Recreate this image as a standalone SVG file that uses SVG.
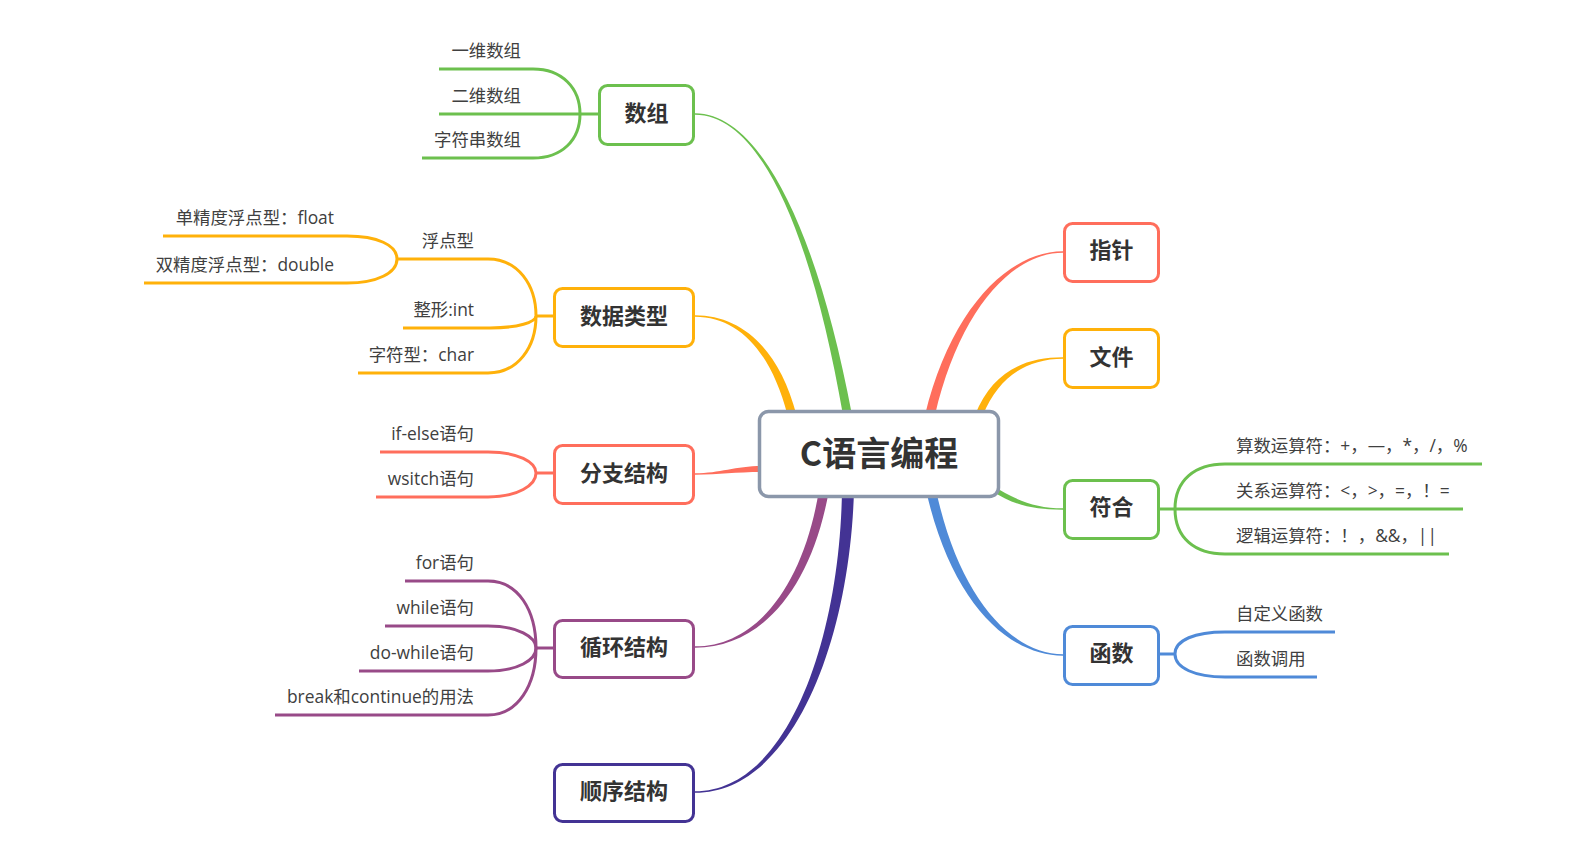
<svg xmlns="http://www.w3.org/2000/svg" width="1594" height="850" viewBox="0 0 1594 850">
<style>
.node rect{fill:#fff;stroke-width:3}
.lbl{font-family:"Noto Sans CJK SC",sans-serif;font-weight:bold;font-size:22px;fill:#333;text-anchor:middle;dominant-baseline:central}
.sub{font-family:"Open Sans","Noto Sans CJK SC",sans-serif;font-size:17.4px;fill:#404040;dominant-baseline:central}
.e{text-anchor:end}
.br path{fill:none;stroke-width:3}
</style>
<rect width="1594" height="850" fill="#fff"/>
<g id="connectors">
  <path fill="#6cc04e" d="M695,113.3 C760,113.3 817,229 852,415 L843,415 C811,231 760,114.7 695,114.7 Z"/>
  <path fill="#ffb10a" d="M695,315.3 C741,315.3 779,348 796.5,415 L787.5,415 C771,352 739,316.7 695,316.7 Z"/>
  <path fill="#ff6e5c" d="M695,473.3 C720,473.3 735,466 762,466 L762,472 C735,472 720,474.7 695,474.7 Z"/>
  <path fill="#984a88" d="M695,646.3 C758,646.3 804,583 819,490 L829,490 C812,587 762,647.7 695,647.7 Z"/>
  <path fill="#433394" d="M695,791.3 C788,791.3 840,638 842,490 L854,490 C850,642 792,792.7 695,792.7 Z"/>
  <path fill="#ff6e5c" d="M1063,251.3 C1009,251.3 951,308 925,415 L935,415 C959,312 1011,252.7 1063,252.7 Z"/>
  <path fill="#ffb10a" d="M1063,357.3 C1024,357.3 992,372 975,415 L983,415 C998,378 1026,358.7 1063,358.7 Z"/>
  <path fill="#6cc04e" d="M1063,508.3 C1035,508.3 1015,500 992,485 L992,491 C1015,506 1035,509.7 1063,509.7 Z"/>
  <path fill="#4f8ad8" d="M1063,654.3 C1012,654.3 959,598 936,490 L926,490 C951,602 1008,655.7 1063,655.7 Z"/>
  <g class="br">
    <g stroke="#6cc04e">
      <path d="M580,114 L599,114"/>
      <path d="M439,69 L533,69 C562,69 580,88 580,114"/>
      <path d="M439,114 L580,114"/>
      <path d="M422,158 L533,158 C562,158 580,140 580,114"/>
    </g>
    <g stroke="#ffb10a">
      <path d="M536,316 L554,316"/>
      <path d="M397,259 L488,259 C518,259 536,285 536,316"/>
      <path d="M403,328 L490,328 C518,328 536,322 536,316"/>
      <path d="M358,373 L488,373 C518,373 536,347 536,316"/>
      <path d="M163,236 L347,236 C377,236 397,245 397,259"/>
      <path d="M144,283 L347,283 C377,283 397,273 397,259"/>
    </g>
    <g stroke="#ff6e5c">
      <path d="M536,473 L554,473"/>
      <path d="M380,452 L488,452 C518,452 536,462 536,473"/>
      <path d="M376,497 L488,497 C518,497 536,485 536,473"/>
    </g>
    <g stroke="#984a88">
      <path d="M536,648 L554,648"/>
      <path d="M405,581 L488,581 C518,581 536,610 536,648"/>
      <path d="M385,626 L488,626 C518,626 536,637 536,648"/>
      <path d="M359,671 L488,671 C518,671 536,660 536,648"/>
      <path d="M275,715 L488,715 C518,715 536,685 536,648"/>
    </g>
    <g stroke="#6cc04e">
      <path d="M1159,509 L1175,509"/>
      <path d="M1175,509 C1175,480 1195,464 1225,464 L1482,464"/>
      <path d="M1175,509 L1463,509"/>
      <path d="M1175,509 C1175,538 1195,554 1225,554 L1449,554"/>
    </g>
    <g stroke="#4f8ad8">
      <path d="M1159,654 L1175,654"/>
      <path d="M1175,654 C1175,640 1195,632 1225,632 L1335,632"/>
      <path d="M1175,654 C1175,668 1195,677 1225,677 L1317,677"/>
    </g>
  </g>
</g>
<g id="root" class="node">
  <rect x="759.5" y="411.5" width="239" height="85" rx="9" stroke="#8b97aa" style="stroke-width:3.5"/>
  <text x="879" y="451" class="lbl" style="font-size:34px">C语言编程</text>
</g>
<g id="n-shuzu" class="node">
  <rect x="599.5" y="85.5" width="94" height="59" rx="8" stroke="#6cc04e"/>
  <text x="646.5" y="111" class="lbl">数组</text>
  <text x="521" y="50" class="sub e">一维数组</text>
  <text x="521" y="95" class="sub e">二维数组</text>
  <text x="521" y="139" class="sub e">字符串数组</text>
</g>
<g id="n-shujuleixing" class="node">
  <rect x="554.5" y="288.5" width="139" height="58" rx="8" stroke="#ffb10a"/>
  <text x="624" y="314" class="lbl">数据类型</text>
  <text x="474" y="240" class="sub e">浮点型</text>
  <text x="334" y="217" class="sub e">单精度浮点型：float</text>
  <text x="334" y="264" class="sub e">双精度浮点型：double</text>
  <text x="474" y="309" class="sub e">整形:int</text>
  <text x="474" y="354" class="sub e">字符型：char</text>
</g>
<g id="n-fenzhi" class="node">
  <rect x="554.5" y="445.5" width="139" height="58" rx="8" stroke="#ff6e5c"/>
  <text x="624" y="471" class="lbl">分支结构</text>
  <text x="474" y="433" class="sub e">if-else语句</text>
  <text x="474" y="478" class="sub e">wsitch语句</text>
</g>
<g id="n-xunhuan" class="node">
  <rect x="554.5" y="620.5" width="139" height="57" rx="8" stroke="#984a88"/>
  <text x="624" y="645" class="lbl">循环结构</text>
  <text x="474" y="562" class="sub e">for语句</text>
  <text x="474" y="607" class="sub e">while语句</text>
  <text x="474" y="652" class="sub e">do-while语句</text>
  <text x="474" y="696" class="sub e">break和continue的用法</text>
</g>
<g id="n-shunxu" class="node">
  <rect x="554.5" y="764.5" width="139" height="57" rx="8" stroke="#433394"/>
  <text x="624" y="789" class="lbl">顺序结构</text>
</g>
<g id="n-zhizhen" class="node">
  <rect x="1064.5" y="223.5" width="94" height="58" rx="8" stroke="#ff6e5c"/>
  <text x="1111.5" y="248" class="lbl">指针</text>
</g>
<g id="n-wenjian" class="node">
  <rect x="1064.5" y="329.5" width="94" height="58" rx="8" stroke="#ffb10a"/>
  <text x="1111.5" y="355" class="lbl">文件</text>
</g>
<g id="n-fuhe" class="node">
  <rect x="1064.5" y="480.5" width="94" height="58" rx="8" stroke="#6cc04e"/>
  <text x="1111.5" y="505" class="lbl">符合</text>
  <text x="1236" y="445" class="sub">算数运算符：+，—，*，/，%</text>
  <text x="1236" y="490" class="sub">关系运算符：&lt;，&gt;，=，！=</text>
  <text x="1236" y="535" class="sub">逻辑运算符：！，&amp;&amp;，||</text>
</g>
<g id="n-hanshu" class="node">
  <rect x="1064.5" y="626.5" width="94" height="58" rx="8" stroke="#4f8ad8"/>
  <text x="1111.5" y="651" class="lbl">函数</text>
  <text x="1236" y="613" class="sub">自定义函数</text>
  <text x="1236" y="658" class="sub">函数调用</text>
</g>
</svg>
